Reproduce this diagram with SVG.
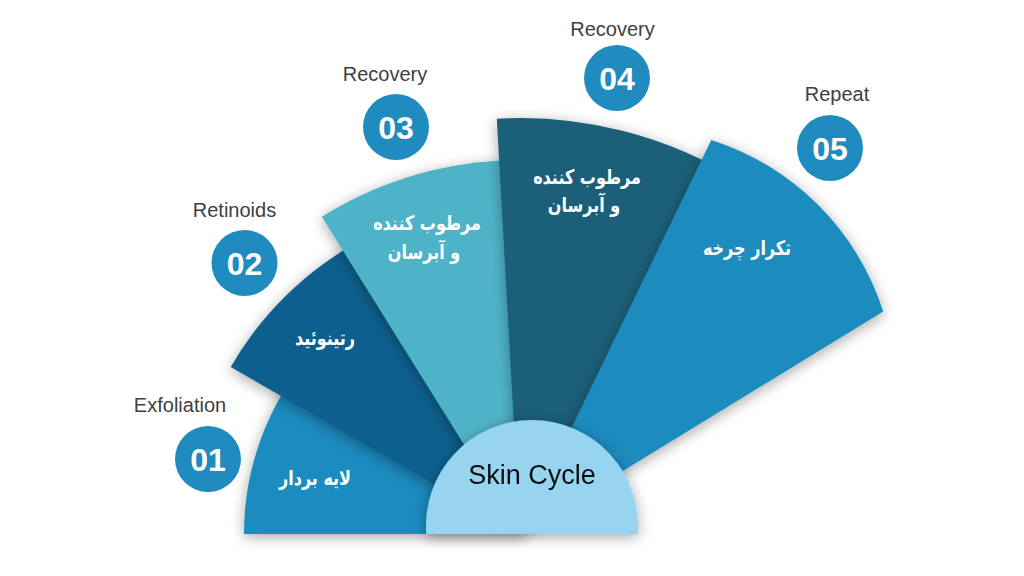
<svg xmlns="http://www.w3.org/2000/svg" width="1024" height="576" viewBox="0 0 1024 576">
<style>
.lbl{font-family:"Liberation Sans",Arial,sans-serif;font-size:20px;fill:#404040;text-anchor:middle}
.num{font-family:"Liberation Sans",Arial,sans-serif;font-size:32px;font-weight:bold;fill:#ffffff;text-anchor:middle}
.fa{font-family:"DejaVu Sans",sans-serif;font-size:20px;font-weight:bold;fill:#ffffff;text-anchor:middle}
.badge{fill:#1F8BBF}
.sec{filter:url(#sh)}
</style>
<defs>
<filter id="sh" x="-20%" y="-20%" width="140%" height="140%">
<feDropShadow dx="0" dy="3" stdDeviation="7" flood-color="#000" flood-opacity="0.35"/>
</filter>
</defs>
<rect width="1024" height="576" fill="#ffffff"/>
<g id="sector1" class="sec"><path d="M520,534 L244,534 A276,276 0 0 1 308.6,356.6 Z" fill="#1F8BBF"/></g>
<g id="sector2" class="sec"><path d="M520,534 L230.7,367 A334,334 0 0 1 378.8,231.3 Z" fill="#10608D"/></g>
<g id="sector3" class="sec"><path d="M520,534 L321.8,216.8 A374,374 0 0 1 552.6,161.4 Z" fill="#50B3C8"/></g>
<g id="sector4" class="sec"><path d="M520,534 L496.8,118.7 A416,416 0 0 1 740.4,181.2 Z" fill="#1A5E78"/></g>
<g id="sector5" class="sec"><path d="M520,534 L711.3,140 A265,265 0 0 1 883.2,311.4 Z" fill="#1F8BBE"/></g>
<g id="center" class="sec"><path d="M426.3,534 A106,106 0 1 1 637.7,534 Z" fill="#96D4F0"/>
<text x="532" y="484" style="font-family:'Liberation Sans',Arial,sans-serif;font-size:27px;fill:#111111;text-anchor:middle">Skin Cycle</text></g>
<g id="text1"><text class="fa" transform="translate(315,485) scale(0.8,1)">لایه بردار</text></g>
<g id="text2"><text class="fa" transform="translate(325,345) scale(0.8,1)">رتینوئید</text></g>
<g id="text3"><text class="fa" transform="translate(427,230) scale(0.8,1)">مرطوب کننده</text><text class="fa" transform="translate(424,259) scale(0.8,1)">و آبرسان</text></g>
<g id="text4"><text class="fa" transform="translate(587,184) scale(0.8,1)">مرطوب کننده</text><text class="fa" transform="translate(584,212) scale(0.8,1)">و آبرسان</text></g>
<g id="text5"><text class="fa" transform="translate(747,255) scale(0.8,1)">تکرار چرخه</text></g>
<g id="step1"><text class="lbl" x="180" y="412">Exfoliation</text><circle class="badge" cx="208" cy="459" r="33"/><text class="num" x="208" y="471">01</text></g>
<g id="step2"><text class="lbl" x="234.5" y="217">Retinoids</text><circle class="badge" cx="244.5" cy="263" r="33"/><text class="num" x="244.5" y="275">02</text></g>
<g id="step3"><text class="lbl" x="385" y="81">Recovery</text><circle class="badge" cx="396" cy="127" r="33"/><text class="num" x="396" y="139">03</text></g>
<g id="step4"><text class="lbl" x="612.5" y="36">Recovery</text><circle class="badge" cx="617" cy="78" r="33"/><text class="num" x="617" y="90">04</text></g>
<g id="step5"><text class="lbl" x="837" y="101">Repeat</text><circle class="badge" cx="830" cy="148" r="33"/><text class="num" x="830" y="160">05</text></g>
<g id="connectors"></g>
</svg>
